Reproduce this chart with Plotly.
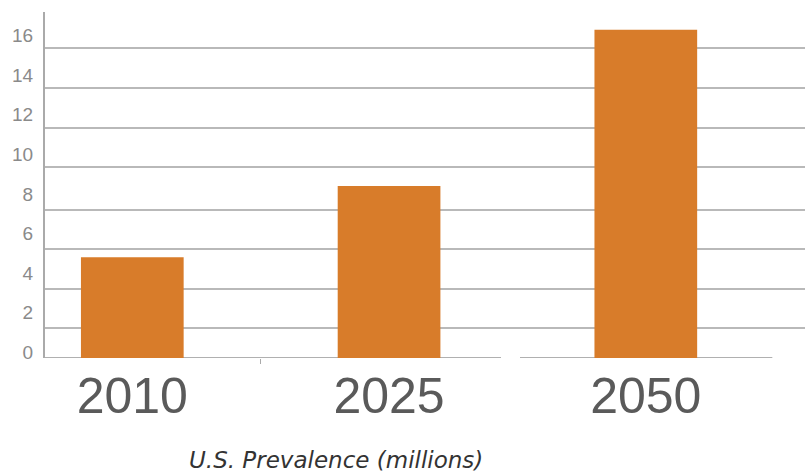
import plotly.graph_objects as go

# Data
years = ["2010", "2025", "2050"]
prevalence = [4.8, 8.4, 16.3]          # U.S. prevalence, millions (label scale)
y_tick_values = [0, 2, 4, 6, 8, 10, 12, 14, 16]
y_tick_labels = ["0", "2", "4", "6", "8", "10", "12", "14", "16"]
grid_values = [1.22, 3.2, 5.22, 7.2, 9.37, 11.35, 13.38, 15.4]
baseline = -0.3
x_title = "U.S. Prevalence (millions)"

x_pos = list(range(len(years)))
bar_color = "#D87C2A"
grid_color = "#b9b9b9"

fig = go.Figure()
fig.add_trace(go.Bar(
    x=x_pos,
    y=[v - baseline for v in prevalence],
    base=baseline,
    width=0.4,
    marker=dict(color=bar_color, line=dict(width=0)),
    hoverinfo="skip",
))

fig.update_layout(
    width=805, height=476,
    margin=dict(l=45, r=0, t=12, b=118, autoexpand=False),
    paper_bgcolor="white", plot_bgcolor="white",
    showlegend=False,
    xaxis=dict(
        range=[-0.34, 2.62], automargin=False,
        tickmode="array", tickvals=x_pos, ticktext=years,
        ticks="", showgrid=False, zeroline=False, showline=False,
        tickfont=dict(family="Liberation Sans, Arial", size=50, color="#5a5a5a"),
        ticklabelstandoff=4,
        minor=dict(tickmode="array", tickvals=[0.5], ticks="outside", ticklen=5,
                   tickcolor="#aaaaaa", tickwidth=1, showgrid=False),
    ),
    yaxis=dict(
        range=[baseline, 17.2], automargin=False,
        tickmode="array", tickvals=y_tick_values, ticktext=y_tick_labels,
        ticks="", showgrid=False, zeroline=False,
        showline=True, linecolor="#aaaaaa", linewidth=2,
        tickfont=dict(family="Liberation Sans, Arial", size=19, color="#8a8a8a"),
        ticklabelstandoff=6,
        minor=dict(tickmode="array", tickvals=grid_values, showgrid=True,
                   gridcolor=grid_color, gridwidth=2, ticks=""),
    ),
    shapes=[
        dict(type="line", xref="paper", yref="y", x0=0, x1=0.6, y0=baseline, y1=baseline,
             line=dict(color="#b0b0b0", width=2), layer="below"),
        dict(type="line", xref="paper", yref="y", x0=0.625, x1=0.957, y0=baseline, y1=baseline,
             line=dict(color="#b0b0b0", width=2), layer="below"),
    ],
    annotations=[
        dict(text=x_title, xref="paper", yref="paper", x=(336 - 45) / 760, y=-0.296,
             xanchor="center", yanchor="middle", showarrow=False,
             font=dict(family="DejaVu Sans", size=23, color="#333333", style="italic")),
    ],
)

fig.write_html("out.html", config={"displayModeBar": False},
               post_script="document.body.style.margin='0';document.body.style.overflow='hidden';")
